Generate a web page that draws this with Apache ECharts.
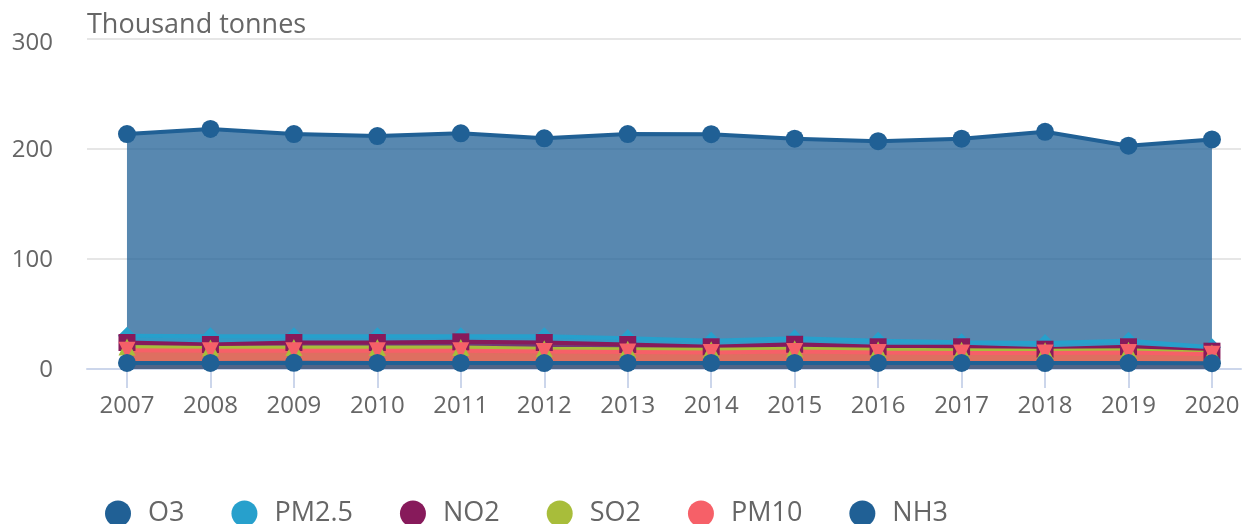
<!DOCTYPE html>
<html>
<head>
<meta charset="utf-8">
<script src="https://cdn.jsdelivr.net/npm/echarts@6/dist/echarts.min.js"></script>
<style>
  html, body { margin: 0; padding: 0; background: #fff; }
  #chart { width: 1243px; height: 524px; }
</style>
</head>
<body>
<div id="chart"></div>
<script>
// years on the x axis
const years = [2007, 2008, 2009, 2010, 2011, 2012, 2013, 2014, 2015, 2016, 2017, 2018, 2019, 2020]
const yTicks = [0, 100, 200, 300]

// thousand tonnes
const o3 = [213.6, 218.2, 213.6, 211.8, 214.3, 209.7, 213.6, 213.5, 209.4, 207.1, 209.4, 215.6, 203.0, 208.7]
const pm25 = [30.3, 29.7, 29.7, 29.7, 29.7, 29.7, 27.9, 25.7, 27.9, 25.7, 24.3, 23.6, 25.7, 19.7]
const no2 = [24.1, 22.3, 24.1, 24.1, 24.7, 24.1, 22.3, 20.2, 22.5, 20.2, 20.2, 18.0, 20.2, 16.2]
const so2 = [20.0, 19.0, 19.5, 19.5, 19.5, 18.5, 18.0, 17.5, 18.5, 17.5, 17.0, 16.5, 17.0, 14.5]
const pm10 = [17.0, 16.5, 16.5, 16.5, 16.5, 16.0, 15.5, 15.0, 16.0, 15.0, 14.5, 14.5, 15.0, 13.5]
const nh3 = [5.5, 5.5, 5.6, 5.5, 5.5, 5.4, 5.5, 5.5, 5.5, 5.5, 5.5, 5.4, 5.4, 5.3]

const font = '"Open Sans", sans-serif'
const txt = '#666666'

// name, values, colour, symbol, rotate, size
const seriesDefs = [
  ['O3', o3, '#206095', 'circle', 0, 18],
  ['PM2.5', pm25, '#27a0cc', 'diamond', 0, 18],
  ['NO2', no2, '#871a5b', 'rect', 0, 17],
  ['SO2', so2, '#a8bd3a', 'triangle', 0, 17],
  ['PM10', pm10, '#f66068', 'triangle', 180, 17],
  ['NH3', nh3, '#206095', 'circle', 0, 18]
]

const myChart = echarts.init(document.getElementById('chart'))

const option = {
  animation: false,
  title: {
    text: 'Thousand tonnes',
    left: 82,
    top: 7,
    textStyle: {fontFamily: font, fontSize: 27, fontWeight: 'normal', color: txt}
  },
  grid: {left: 87, right: 2, top: 39, bottom: 155},
  legend: {
    left: 100,
    top: 495,
    itemWidth: 26,
    itemHeight: 26,
    itemGap: 47,
    icon: 'circle',
    textStyle: {fontFamily: font, fontSize: 27, color: txt, padding: [0, 0, 0, 12]},
    data: seriesDefs.map(d => d[0])
  },
  xAxis: {
    type: 'value',
    min: 2006.521,
    max: 2020.348,
    splitLine: {show: false},
    axisLine: {lineStyle: {color: '#ccd6eb', width: 2}},
    axisTick: {show: true, customValues: years, length: 19, lineStyle: {color: '#ccd6eb', width: 2}},
    axisLabel: {
      customValues: years,
      formatter: v => String(v),
      margin: 25,
      fontFamily: font,
      fontSize: 24,
      color: txt
    }
  },
  yAxis: {
    type: 'value',
    min: 0,
    max: 300,
    interval: 100,
    axisLine: {show: false},
    axisTick: {show: false},
    splitLine: {lineStyle: {color: '#e6e6e6', width: 2}},
    axisLabel: {
      margin: 34,
      fontFamily: font,
      fontSize: 24,
      color: txt,
      // top label sits a little below its grid line
      formatter: v => {
        if (yTicks.indexOf(v) < 0) return ''
        return v === 300 ? '{top|' + v + '}' : '{n|' + v + '}'
      },
      rich: {
        n: {fontFamily: font, fontSize: 24, color: txt, padding: [2, 0, 0, 0]},
        top: {fontFamily: font, fontSize: 24, color: txt, padding: [8, 0, 0, 0]}
      }
    }
  },
  series: seriesDefs.map(d => ({
    name: d[0],
    type: 'line',
    data: years.map((y, i) => [y, d[1][i]]),
    symbol: d[3],
    symbolRotate: d[4],
    symbolSize: d[5],
    showSymbol: true,
    color: d[2],
    itemStyle: {color: d[2], opacity: 1},
    lineStyle: {color: d[2], width: 4},
    areaStyle: {color: d[2], opacity: 0.75},
    emphasis: {disabled: true}
  }))
}

myChart.setOption(option)
</script>
</body>
</html>
